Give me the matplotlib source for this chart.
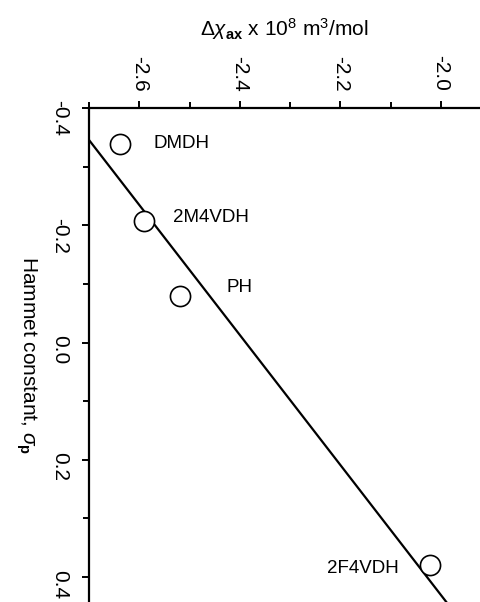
import matplotlib
matplotlib.use("Agg")
import matplotlib.pyplot as plt
from matplotlib.ticker import MultipleLocator

# ==============================
# Data
# ==============================

compounds = ["DMDH", "2M4VDH", "PH", "2F4VDH"]
delta_chi = [-2.638, -2.590, -2.518, -2.021]
sigma_p = [-0.339, -0.208, -0.080, 0.380]

# label anchor positions (data coords)
label_x = [-2.572, -2.532, -2.427, -2.226]
label_y = [-0.339, -0.214, -0.094, 0.385]

# fitted straight line, end points
fit_x = [-2.700, -1.989]
fit_y = [-0.3455, 0.4425]

# ==============================
# Plot
# ==============================

plt.rcParams["font.family"] = ["Liberation Sans", "DejaVu Sans"]
plt.rcParams["mathtext.fontset"] = "custom"
plt.rcParams["mathtext.rm"] = "Liberation Sans"
plt.rcParams["mathtext.it"] = "Liberation Sans:italic"
plt.rcParams["mathtext.bf"] = "Liberation Sans:bold"

fig = plt.figure(figsize=(4.8, 6.02), dpi=100)
ax = fig.add_axes([89 / 480, 0.0, (480 - 89) / 480, (602 - 108) / 602])

ax.plot(fit_x, fit_y, color="black", lw=1.6, zorder=2)
ax.plot(delta_chi, sigma_p, "o", ms=14.5, mfc="white", mec="black", mew=1.2,
        linestyle="none", zorder=3)

for name, lx, ly in zip(compounds, label_x, label_y):
    ax.text(lx, ly, name, fontsize=13.5, ha="left", va="center")

ax.set_xlim(-2.700, -1.922)
ax.set_ylim(0.4425, -0.400)

ax.spines["right"].set_visible(False)
ax.spines["bottom"].set_visible(False)
ax.spines["top"].set_linewidth(1.6)
ax.spines["left"].set_linewidth(1.6)

ax.xaxis.tick_top()
ax.xaxis.set_label_position("top")
ax.xaxis.set_major_locator(MultipleLocator(0.2))
ax.xaxis.set_minor_locator(MultipleLocator(0.1))
ax.yaxis.set_major_locator(MultipleLocator(0.2))
ax.yaxis.set_minor_locator(MultipleLocator(0.1))

ax.xaxis.set_major_formatter(plt.FuncFormatter(lambda v, p: f"{v:.1f}"))
ax.yaxis.set_major_formatter(plt.FuncFormatter(lambda v, p: f"{v:.1f}" if abs(v) > 1e-9 else "0.0"))

ax.tick_params(axis="both", which="major", direction="out", length=5, width=1.4,
               labelsize=15, pad=7)
ax.tick_params(axis="both", which="minor", direction="out", length=4, width=1.4)
ax.tick_params(axis="x", labelrotation=-90)
ax.tick_params(axis="y", labelrotation=-90, pad=9)

ax.set_xlabel(r"$\Delta\chi_{\mathbf{ax}}$ x 10$^{8}$ m$^{3}$/mol", fontsize=15, labelpad=14)
ax.set_ylabel(r"Hammet constant, $\sigma_{\mathbf{p}}$", fontsize=15, rotation=-90,
              va="center")
ax.yaxis.set_label_coords(-0.16, 0.5)

fig.savefig("out.png", dpi=100)
